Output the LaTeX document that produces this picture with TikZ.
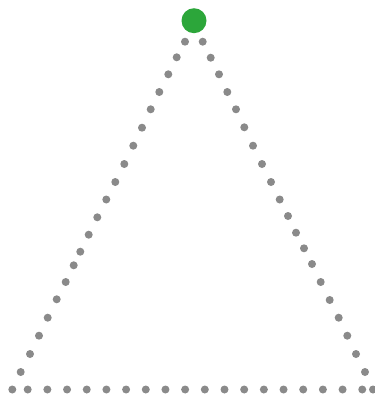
\documentclass[tikz,border=0pt]{standalone}
\begin{document}
\begin{tikzpicture}[x=1pt,y=-1pt,
  dotg/.style={fill=dotgray},
  apex/.style={circle,fill=dotgreen,inner sep=0pt,minimum size=25pt}]
\definecolor{dotgray}{RGB}{138,138,138}
\definecolor{dotgreen}{RGB}{44,166,58}
\useasboundingbox (0,0) rectangle (375,394);
% left side
\foreach \x/\y in {185/41.7,176.7/57.3,168.3/74.3,159.3/92,150.7/109.3,142/127.7,133.3/145.7,124.3/164,115.3/182,106.3/199.5,97.3/217.3,88.7/234.7,80.3/251.7,73.7/265.3,65.7/282,56.7/299.3,47.7/317.7,39/335.7,30/354,20.7/372,12.3/389.5}
  \fill[dotg] (\x,\y) circle (4);
% right side
\foreach \x/\y in {202.7/41.7,210.7/57.7,219/74.3,227.3/92,236/109.3,244.3/127.3,253/145.7,262/164,271/182,279.7/199.5,288/216,296/232.7,304/248.3,312/264,320.7/282,329.7/300,338.7/317.7,347.3/335.7,356/354,365/372,373/389.5}
  \fill[dotg] (\x,\y) circle (4);
% base
\foreach \k in {0,...,17}
  \fill[dotg] ({27.7+19.68*\k},389.5) circle (4);
% apex dot
\node[apex] (top) at (194,20.7) {};
\end{tikzpicture}
\end{document}
